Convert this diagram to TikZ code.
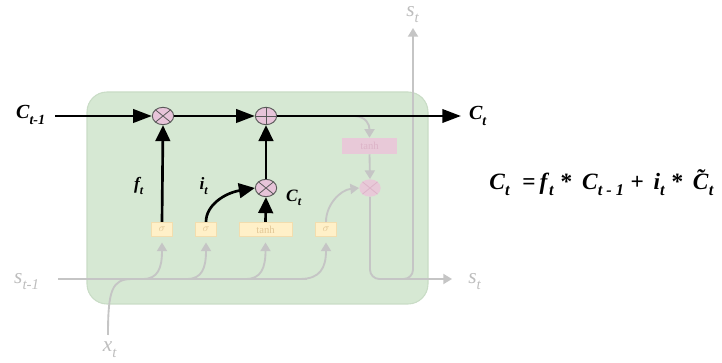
\documentclass[tikz,border=0pt]{standalone}
\usepackage{fontspec}
\setmainfont{Liberation Serif}
\usetikzlibrary{shapes.geometric,arrows.meta}
\definecolor{cellgreen}{HTML}{D6E8D3}
\definecolor{celledge}{HTML}{C9DCC6}
\definecolor{gateyellow}{HTML}{FFF0C8}
\definecolor{gateedge}{HTML}{F2DDAE}
\definecolor{gatetext}{HTML}{E2C796}
\definecolor{oppink}{HTML}{E7C4D9}
\definecolor{fadepink}{HTML}{E8C9D8}
\definecolor{fadetext}{HTML}{DDB4C8}
\definecolor{flowgray}{HTML}{C5C5C5}
\definecolor{labelgray}{HTML}{BDBDBD}
\newcommand{\tildeC}{\ooalign{\textit{C}\cr\hidewidth\raisebox{0.17em}{\textit{\char"02DC}}\hidewidth\cr}}
\newcommand{\lowsub}[1]{\raisebox{-0.12em}{\textsubscript{#1}}}
\begin{document}
\begin{tikzpicture}[x=0.75pt,y=-0.75pt,
  cell/.style={draw=celledge,fill=cellgreen,line width=0.8pt,rounded corners=15pt},
  gatebox/.style={draw=gateedge,fill=gateyellow,line width=0.5pt,inner sep=0pt,
    minimum height=11pt,text=gatetext,font=\fontsize{8}{8}\selectfont},
  tanhbox/.style={draw=none,fill=fadepink,inner sep=0pt,minimum height=12pt,
    minimum width=41pt,text=fadetext,font=\fontsize{8}{8}\selectfont},
  opmul/.style={ellipse,draw=black!65,fill=oppink,line width=0.7pt,
    minimum width=16pt,minimum height=13pt,inner sep=0pt,
    path picture={\draw[black!65,line width=0.6pt]
      (path picture bounding box.north west) -- (path picture bounding box.south east)
      (path picture bounding box.south west) -- (path picture bounding box.north east);}},
  opadd/.style={ellipse,draw=black!65,fill=oppink,line width=0.7pt,
    minimum width=16pt,minimum height=13pt,inner sep=0pt,
    path picture={\draw[black!65,line width=0.6pt]
      (path picture bounding box.north) -- (path picture bounding box.south)
      (path picture bounding box.west) -- (path picture bounding box.east);}},
  opfade/.style={ellipse,draw=none,fill=fadepink,
    minimum width=16pt,minimum height=13pt,inner sep=0pt,
    path picture={\draw[fadetext,line width=0.6pt]
      (path picture bounding box.north west) -- (path picture bounding box.south east)
      (path picture bounding box.south west) -- (path picture bounding box.north east);}},
  mainflow/.style={line width=2pt,black,-{Triangle[length=14pt,width=10pt]}},
  gateflow/.style={line width=2pt,black,-{Triangle[length=12pt,width=11pt]}},
  greyflow/.style={line width=1.4pt,flowgray,-{Triangle[length=6.5pt,width=7.5pt]}},
  greyline/.style={line width=1.4pt,flowgray},
  biglabel/.style={font=\fontsize{15}{17}\selectfont\bfseries\itshape,inner sep=0pt},
  smalllabel/.style={font=\fontsize{13}{15}\selectfont\bfseries\itshape,inner sep=0pt},
  greylabel/.style={font=\fontsize{16}{18}\selectfont\itshape,text=labelgray,inner sep=0pt}
]
\useasboundingbox (0,0) rectangle (722,363);

% cell background
\path[cell] (87,92) rectangle (428,304);

% operation nodes
\node[opmul] (m1) at (163,116) {};
\node[opadd] (pl) at (266,116) {};
\node[opmul] (m2) at (266,188) {};
\node[opfade] (m3) at (370,188) {};

% gate boxes
\node[gatebox,minimum width=15.5pt] (s1) at (162,229.5) {$\sigma$};
\node[gatebox,minimum width=15.5pt] (s2) at (206,229.5) {$\sigma$};
\node[gatebox,minimum width=40pt] (th) at (265.5,229.5) {tanh};
\node[gatebox,minimum width=15.5pt] (s4) at (326,229.5) {$\sigma$};
\node[tanhbox] (t2) at (369.5,146) {tanh};

% coordinates
\coordinate (cin) at (55,116);
\coordinate (cout) at (461,116);
\coordinate (sin) at (58,279);
\coordinate (sout) at (452,279);
\coordinate (xin) at (108,335);
\coordinate (stop) at (413,28);
\coordinate (tap) at (355,116);

% grey flows
\draw[greyline] (sin) -- (307,279);
\draw[greyflow] (143,279) .. controls (158,279) and (162,268) .. ([yshift=-4pt]s1.south);
\draw[greyflow] (187,279) .. controls (202,279) and (206,268) .. ([yshift=-4pt]s2.south);
\draw[greyflow] (246,279) .. controls (261,279) and (265.5,268) .. ([yshift=-4pt]th.south);
\draw[greyflow] (300,279) .. controls (320,279) and (326,268) .. ([yshift=-4pt]s4.south);
\draw[greyline] (xin) .. controls (108,290) and (112,279) .. (132,279);
\draw[greyflow] (s4.north) .. controls (326,205) and (340,190) .. (m3.west);
\draw[greyflow] (tap) .. controls (366,117) and (369.5,124) .. (t2.north);
\draw[greyflow] (t2.south) -- (m3.north);
\draw[greyflow,rounded corners=7pt] (m3.south) |- (sout);
\draw[greyflow,rounded corners=7pt] (395,279) -| (stop);

% black flows
\draw[mainflow] (cin) -- (m1.west);
\draw[mainflow] (m1.east) -- (pl.west);
\draw[mainflow] (pl.east) -- (cout);
\draw[gateflow] (s1.north) -- (m1.south);
\draw[gateflow] (th.north) -- (m2.south);
\draw[gateflow] (m2.north) -- (pl.south);
\draw[gateflow] (s2.north) .. controls (206,205) and (225,193) .. (m2.west);

% labels
\node[biglabel] (lcin) at (31,115) {C\lowsub{t-1}};
\node[biglabel] (lcout) at (478,116) {C\lowsub{t}};
\node[smalllabel] (lf) at (139,186) {f\lowsub{t}};
\node[smalllabel] (li) at (204,186) {i\lowsub{t}};
\node[smalllabel] (lc) at (294,198) {C\lowsub{t}};
\node[greylabel] (lsin) at (27,282) {s\lowsub{t-1}};
\node[greylabel] (lsout) at (475,282) {s\lowsub{t}};
\node[greylabel] (lstop) at (413,15) {s\lowsub{t}};
\node[greylabel] (lx) at (110,350) {x\lowsub{t}};

% equation
\node[anchor=west,inner sep=0pt,font=\fontsize{17.5}{19}\selectfont\bfseries] (eq) at (489,184)
  {\textit{C}\lowsub{\textit{t}}\ \ =\,\textit{f}\lowsub{\textit{t}} *\, \textit{C}\lowsub{\textit{t - 1}} +\, \textit{i}\lowsub{\textit{t}} *\, \tildeC\lowsub{\textit{t}}};
\end{tikzpicture}
\end{document}
